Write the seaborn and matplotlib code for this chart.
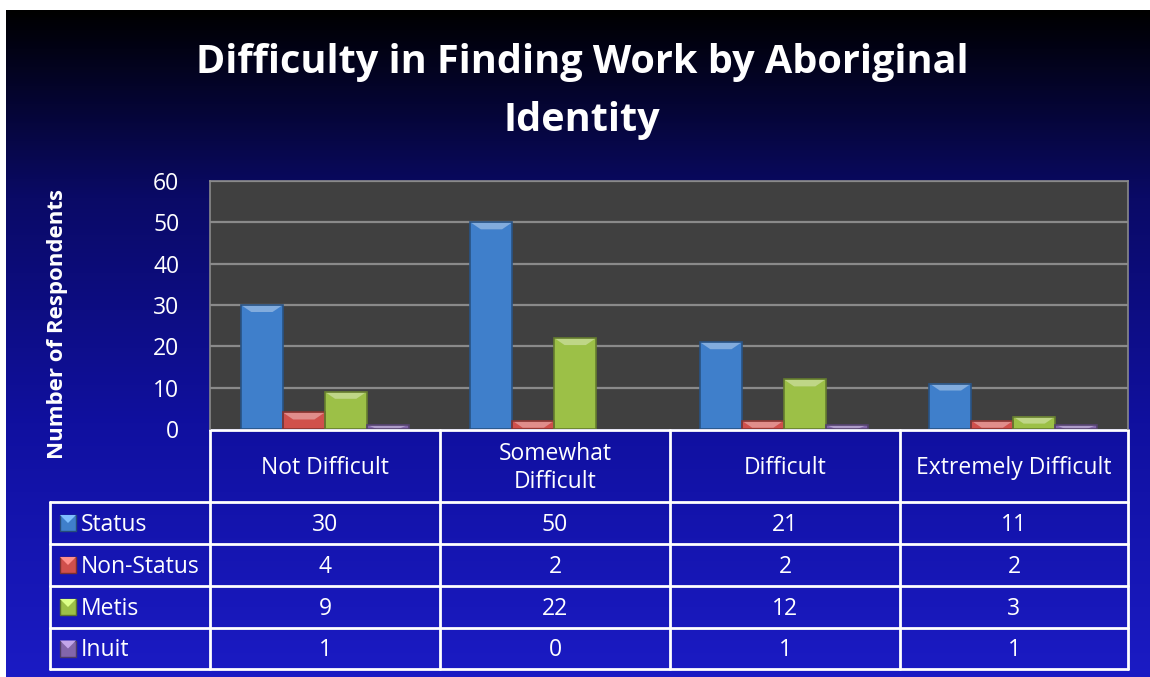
import numpy as np
import pandas as pd
import matplotlib
matplotlib.use("Agg")
import matplotlib.pyplot as plt
from matplotlib.colors import LinearSegmentedColormap, to_rgb
from matplotlib.patches import Polygon, Rectangle
import seaborn as sns

categories = ["Not Difficult", "Somewhat\nDifficult", "Difficult", "Extremely Difficult"]
series = ["Status", "Non-Status", "Metis", "Inuit"]
status = [30, 50, 21, 11]
non_status = [4, 2, 2, 2]
metis = [9, 22, 12, 3]
inuit = [1, 0, 1, 1]
colors = ["#3f7fcb", "#d0504c", "#9cc047", "#8366aa"]

values = [status, non_status, metis, inuit]
df = pd.DataFrame([
    {"category": c, "series": s, "value": v}
    for s, vals in zip(series, values) for c, v in zip(categories, vals)
])

sns.set_theme(style="white")
plt.rcParams["font.family"] = ["Open Sans", "DejaVu Sans"]

W, H = 1150, 677
fig = plt.figure(figsize=(W / 100, H / 100), dpi=100)
fig.patch.set_facecolor("white")

# background canvas in pixel coords
bg = fig.add_axes([0, 0, 1, 1])
bg.set_xlim(0, W)
bg.set_ylim(H, 0)
bg.axis("off")
grad = LinearSegmentedColormap.from_list(
    "bgv", [(0, "#000000"), (0.28, "#0a0a66"), (0.62, "#10109f"), (1, "#1b1bc4")])
bg.imshow(np.linspace(0, 1, 256)[:, None], aspect="auto", cmap=grad,
          extent=[6, W, H, 10], zorder=0)

fig.text(582 / W, 1 - 63 / H, "Difficulty in Finding Work by Aboriginal",
         ha="center", va="center", color="white", fontsize=28.5, fontweight="bold")
fig.text(582 / W, 1 - 121 / H, "Identity",
         ha="center", va="center", color="white", fontsize=28.5, fontweight="bold")

# plot area
x0, x1, ytop, ybot = 210, 1128, 181, 429
ax = fig.add_axes([x0 / W, 1 - ybot / H, (x1 - x0) / W, (ybot - ytop) / H])
ax.set_facecolor("#404040")
sns.barplot(data=df, x="category", y="value", hue="series", hue_order=series,
            palette=colors, width=0.73, saturation=1, ax=ax, legend=False,
            edgecolor="none", zorder=3)
ax.set_ylim(0, 60)
ax.set_xlim(-0.5, 3.5)
ax.set_yticks(range(0, 61, 10))
ax.set_yticklabels([str(t) for t in range(0, 61, 10)], color="white", fontsize=16.5)
ax.tick_params(axis="y", length=0, pad=22)
ax.set_xticks([])
ax.set_xlabel("")
ax.set_ylabel("")
for y in range(10, 61, 10):
    ax.axhline(y, color="#8a8a8a", lw=1.6, zorder=1)
for s in ax.spines.values():
    s.set_color("#8a8a8a")
    s.set_linewidth(1.2)
ax.spines["bottom"].set_visible(False)

# bevel effect on bars
upp = 60 / (ybot - ytop)
for p in list(ax.patches):
    bx, by, bw, bh = p.get_x(), p.get_y(), p.get_width(), p.get_height()
    if bh <= 0:
        continue
    base = np.array(to_rgb(p.get_facecolor()))
    light = np.clip(base + (1 - base) * 0.35, 0, 1)
    dark = base * 0.65
    dv = min(7 * upp, bh)
    dx = min(0.045, bw / 3)
    ax.add_patch(Polygon([(bx, by + bh), (bx + bw, by + bh), (bx + bw - dx, by + bh - dv),
                          (bx + dx, by + bh - dv)], closed=True, fc=light, ec="none", zorder=4))
    ax.add_patch(Rectangle((bx, by), bw, bh, fc="none", ec=dark, lw=1.2, zorder=5))

fig.text(57 / W, 1 - 324 / H, "Number of Respondents", rotation=90, ha="center",
         va="center", color="white", fontsize=16, fontweight="bold")

# data table
col_edges = [x0, 440, 670, 900, x1]
row_edges = [430, 502, 544, 586, 628, 669]
lab_left = 50
lc = "white"
lw = 2
bg.plot([x0, x1], [row_edges[0], row_edges[0]], color=lc, lw=lw)
for r in row_edges[1:]:
    bg.plot([lab_left, x1], [r, r], color=lc, lw=lw)
for c in col_edges:
    bg.plot([c, c], [row_edges[0], row_edges[-1]], color=lc, lw=lw)
bg.plot([lab_left, lab_left], [row_edges[1], row_edges[-1]], color=lc, lw=lw)

fs = 16.5
for i, cat in enumerate(categories):
    cx = (col_edges[i] + col_edges[i + 1]) / 2
    bg.text(cx, (row_edges[0] + row_edges[1]) / 2 + 2, cat, ha="center", va="center",
            color="white", fontsize=fs, linespacing=1.25)
for j, (name, vals, col) in enumerate(zip(series, values, colors)):
    cy = (row_edges[j + 1] + row_edges[j + 2]) / 2
    bg.add_patch(Rectangle((60, cy - 8), 16, 16, fc=col, ec=np.array(to_rgb(col)) * 0.6, lw=1))
    bg.add_patch(Polygon([(60, cy - 8), (76, cy - 8), (68, cy)], closed=True,
                         fc=np.clip(np.array(to_rgb(col)) + 0.25, 0, 1), ec="none"))
    bg.text(81, cy + 2, name, ha="left", va="center", color="white", fontsize=fs)
    for i, v in enumerate(vals):
        cx = (col_edges[i] + col_edges[i + 1]) / 2
        bg.text(cx, cy + 2, str(v), ha="center", va="center", color="white", fontsize=fs)

fig.savefig("out.png", dpi=100, facecolor=fig.get_facecolor())
